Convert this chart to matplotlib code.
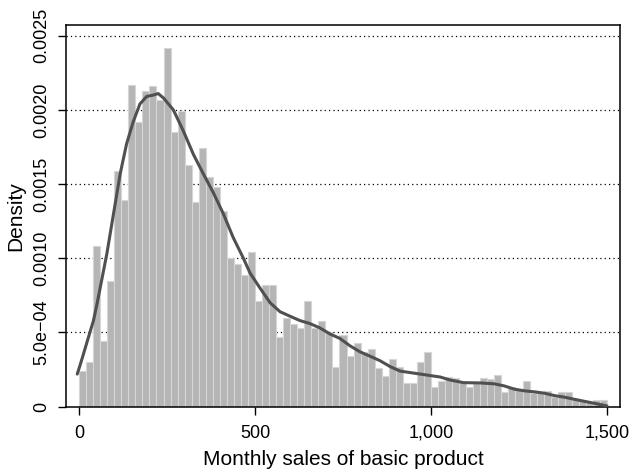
import numpy as np
import matplotlib.pyplot as plt
from matplotlib.ticker import FuncFormatter

plt.rcParams['font.family'] = ['Liberation Sans', 'DejaVu Sans']

# histogram: 75 bins of width 20 from 0 to 1500 (density values)
bin_edges = np.arange(0, 1520, 20)
densitate = [
    0.00024, 0.00030, 0.00108, 0.00044, 0.00085, 0.00159, 0.00139, 0.00217, 0.00192, 0.00213,
    0.00216, 0.00207, 0.00242, 0.00185, 0.00199, 0.00163, 0.00138, 0.00174, 0.00155, 0.00148,
    0.00132, 0.00100, 0.00096, 0.00089, 0.00104, 0.00071, 0.00082, 0.00082, 0.00047, 0.00060,
    0.00056, 0.00053, 0.00071, 0.00053, 0.00058, 0.00050, 0.00027, 0.00048, 0.00034, 0.00043,
    0.00037, 0.00039, 0.00026, 0.00021, 0.00032, 0.00027, 0.00016, 0.00016, 0.00030, 0.00037,
    0.000135, 0.000175, 0.00020, 0.00019, 0.00016, 0.000132, 0.00016, 0.00019, 0.000186, 0.000213,
    0.000098, 0.000132, 0.000114, 0.00017, 0.000095, 0.000091, 0.000109, 0.000068, 0.00010, 0.00010,
    0.00005, 0.000041, 0.000034, 0.000045, 0.000045,
]

# density curve points
curba_x = [-5, 3, 12, 22, 41, 50, 60, 79, 98, 117, 135, 154, 173, 192, 211, 225, 240, 268, 296,
           325, 353, 382, 410, 438, 467, 486, 514, 543, 571, 599, 628, 656, 685, 713, 741, 770,
           798, 827, 855, 884, 912, 940, 969, 997, 1026, 1054, 1092, 1140, 1180, 1208, 1237,
           1265, 1294, 1322, 1350, 1379, 1407, 1436, 1464, 1500]
curba_y = [0.00022, 0.00028, 0.00035, 0.00043, 0.00058, 0.00068, 0.00080, 0.00103, 0.00130,
           0.00157, 0.00177, 0.00192, 0.00204, 0.00209, 0.00210, 0.00211, 0.00208, 0.00200,
           0.00186, 0.00170, 0.00157, 0.00144, 0.00130, 0.00114, 0.00100, 0.00090, 0.00080,
           0.00070, 0.00064, 0.00061, 0.00058, 0.00056, 0.00053, 0.00049, 0.00046, 0.00041,
           0.00037, 0.00034, 0.00031, 0.00027, 0.00024, 0.00023, 0.00022, 0.00021, 0.00020,
           0.00018, 0.000162, 0.00016, 0.000154, 0.00014, 0.000118, 0.000107, 0.00010,
           0.000091, 0.000075, 0.000064, 0.00005, 0.000036, 0.000023, 0.000005]

y_ticks = [0, 0.0005, 0.0010, 0.0015, 0.0020, 0.0025]
y_labels = ['0', '5.0e\u221204', '0.0010', '0.0015', '0.0020', '0.0025']
x_ticks = [0, 500, 1000, 1500]

fig = plt.figure(figsize=(6.31, 4.73), dpi=100)
ax = fig.add_axes([0.1046, 0.1402, 0.878, 0.8063])

for t in y_ticks[1:]:
    ax.axhline(t, color='black', linestyle=(0, (1, 2.5)), linewidth=0.9, zorder=1)

ax.bar(bin_edges[:-1], densitate, width=20, align='edge', color='#b5b5b5',
       edgecolor='#d6d6d6', linewidth=0.8, zorder=2)
ax.plot(curba_x, curba_y, color='#505050', linewidth=2.2, zorder=3,
        solid_joinstyle='round', solid_capstyle='round')

ax.set_xlim(-37, 1537)
ax.set_ylim(0, 0.00257)
ax.set_xticks(x_ticks)
ax.xaxis.set_major_formatter(FuncFormatter(lambda v, p: f'{int(v):,}'))
ax.set_yticks(y_ticks)
ax.set_yticklabels(y_labels, rotation=90, va='center')
ax.tick_params(axis='both', direction='out', length=6, width=1, labelsize=13, colors='black')
ax.tick_params(axis='x', pad=7)
ax.tick_params(axis='y', pad=5)
for s in ax.spines.values():
    s.set_linewidth(1.1)

ax.set_xlabel('Monthly sales of basic product', fontsize=15, labelpad=6)
ax.set_ylabel('Density', fontsize=15, labelpad=6)

fig.savefig('out.png', dpi=100)
